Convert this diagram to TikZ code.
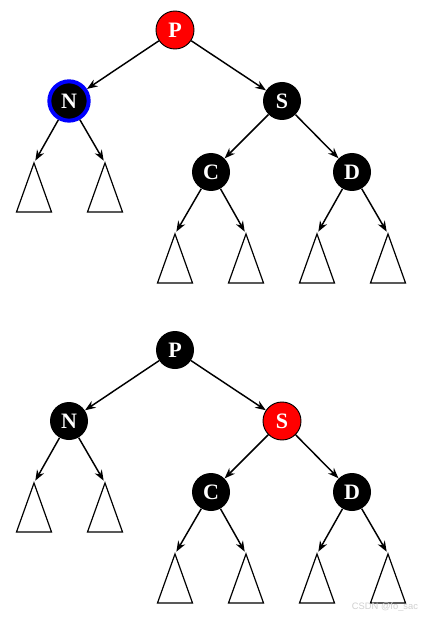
\documentclass[tikz,border=0pt]{standalone}
\usepackage{fontspec}
\setmainfont{Liberation Serif}
\newfontfamily\wmfont{Liberation Sans}
\usetikzlibrary{arrows.meta}
\definecolor{RBRed}{HTML}{FF0000}
\definecolor{RBBlue}{HTML}{0000FF}
\definecolor{RBMark}{HTML}{D0D0D0}

\tikzset{
  rbnode/.style={circle,inner sep=0pt,minimum size=28.5pt,text=white,
    font=\fontsize{16.5}{16.5}\selectfont\bfseries},
  blacknode/.style={rbnode,fill=black},
  rednode/.style={rbnode,fill=RBRed,draw=black,line width=.7pt},
  curnode/.style={rbnode,fill=black,draw=RBBlue,line width=3pt,minimum size=29.5pt},
  edge/.style={line width=1.1pt,-{Stealth[length=8pt,width=6pt]}},
  leafedge/.style={edge,shorten >=2pt},
  subtree/.style={line width=.9pt,line join=miter},
}

\begin{document}
\begin{tikzpicture}[x=0.75pt,y=-0.75pt]
\path[use as bounding box] (0,0) rectangle (421,620);
\fill[white] (0,0) rectangle (421,620);

% before
\node[rednode]   (P1) at (175,30)  {P};
\node[curnode]   (N1) at (69,101)  {N};
\node[blacknode] (S1) at (282,101) {S};
\node[blacknode] (C1) at (211,172) {C};
\node[blacknode] (D1) at (352,172) {D};
\coordinate (a1) at (34,163);
\coordinate (b1) at (105,163);
\coordinate (c1) at (175,234);
\coordinate (d1) at (246,234);
\coordinate (e1) at (317,234);
\coordinate (f1) at (388,234);
\foreach \t in {a1,b1,c1,d1,e1,f1}
  \draw[subtree] (\t) -- ++(-17.5,49) -- ++(35,0) -- cycle;
\draw[edge] (P1) -- (N1);
\draw[edge] (P1) -- (S1);
\draw[edge] (S1) -- (C1);
\draw[edge] (S1) -- (D1);
\draw[leafedge] (N1) -- (a1);
\draw[leafedge] (N1) -- (b1);
\draw[leafedge] (C1) -- (c1);
\draw[leafedge] (C1) -- (d1);
\draw[leafedge] (D1) -- (e1);
\draw[leafedge] (D1) -- (f1);

% after
\node[blacknode] (P2) at (175,350) {P};
\node[blacknode] (N2) at (69,421)  {N};
\node[rednode]   (S2) at (282,421) {S};
\node[blacknode] (C2) at (211,492) {C};
\node[blacknode] (D2) at (352,492) {D};
\coordinate (a2) at (34,483);
\coordinate (b2) at (105,483);
\coordinate (c2) at (175,554);
\coordinate (d2) at (246,554);
\coordinate (e2) at (317,554);
\coordinate (f2) at (388,554);
\foreach \t in {a2,b2,c2,d2,e2,f2}
  \draw[subtree] (\t) -- ++(-17.5,49) -- ++(35,0) -- cycle;
\draw[edge] (P2) -- (N2);
\draw[edge] (P2) -- (S2);
\draw[edge] (S2) -- (C2);
\draw[edge] (S2) -- (D2);
\draw[leafedge] (N2) -- (a2);
\draw[leafedge] (N2) -- (b2);
\draw[leafedge] (C2) -- (c2);
\draw[leafedge] (C2) -- (d2);
\draw[leafedge] (D2) -- (e2);
\draw[leafedge] (D2) -- (f2);

\node[text=RBMark,font=\wmfont\fontsize{7}{7}\selectfont,inner sep=0pt] (mark) at (385,607) {CSDN @fo\_sac};
\end{tikzpicture}
\end{document}
